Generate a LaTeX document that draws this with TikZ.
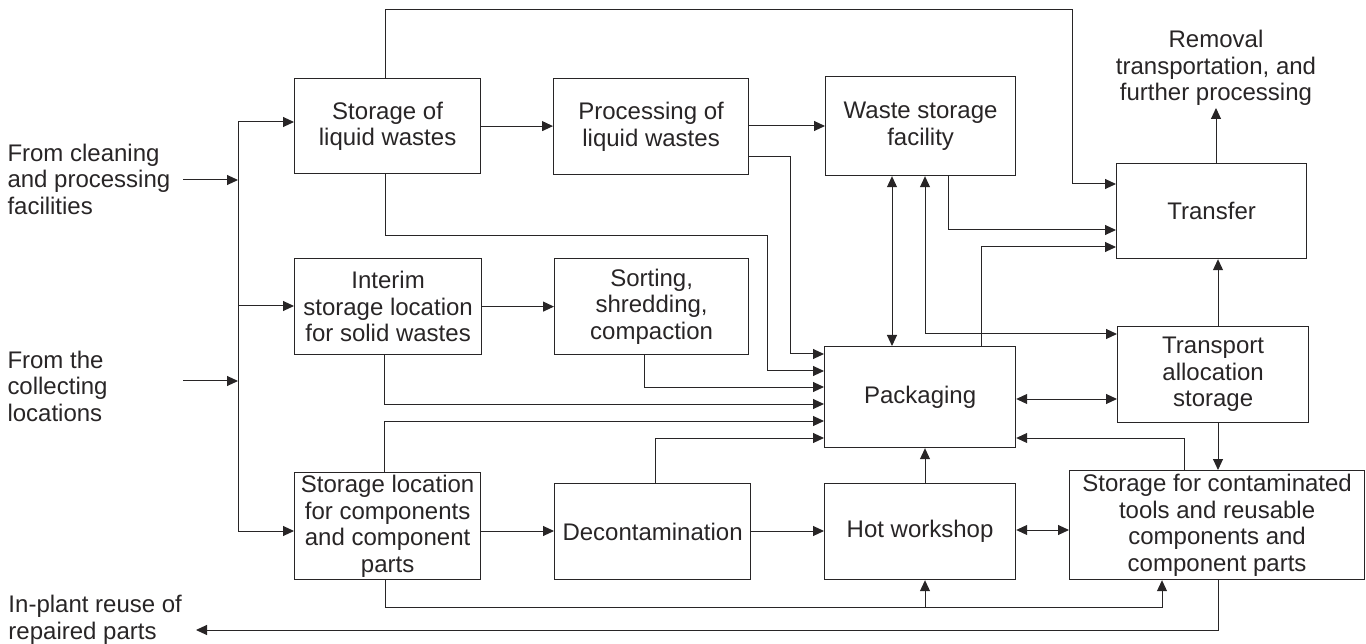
\documentclass[tikz,border=0pt]{standalone}
\usepackage{fontspec}
\setmainfont{Liberation Sans}
\usetikzlibrary{arrows.meta}
\definecolor{ln}{RGB}{40,37,38}
\begin{document}
\begin{tikzpicture}[x=1pt,y=-1pt,line width=1pt,
  every node/.style={font=\fontsize{24}{26.5}\selectfont,text=ln},
  box/.style={draw=ln,line width=1.2pt,align=center,inner sep=0pt,anchor=north west},
  lbl/.style={inner sep=0pt,align=left,anchor=west},
  arr/.style={draw=ln,-{Triangle[length=11pt,width=10pt]}},
  darr/.style={draw=ln,{Triangle[length=11pt,width=10pt]}-{Triangle[length=11pt,width=10pt]}}]
\useasboundingbox (0,0) rectangle (1366,644);
% boxes
\node[box,minimum width=186pt,minimum height=95pt] (SL) at (294,78) {Storage of\\liquid wastes};
\node[box,minimum width=195pt,minimum height=96pt] (PL) at (553,78) {Processing of\\liquid wastes};
\node[box,minimum width=190pt,minimum height=99pt] (WS) at (825,76) {Waste storage\\facility};
\node[box,minimum width=190pt,minimum height=95pt] (TR) at (1116,163) {Transfer};
\node[box,minimum width=187pt,minimum height=96pt] (IN) at (294,258) {Interim\\storage location\\for solid wastes};
\node[box,minimum width=194pt,minimum height=96pt] (SO) at (554,258) {Sorting,\\shredding,\\compaction};
\node[box,minimum width=191pt,minimum height=101pt] (PK) at (824,346) {Packaging};
\node[box,minimum width=191pt,minimum height=96pt] (TA) at (1117,326) {Transport\\allocation\\storage};
\node[box,minimum width=186pt,minimum height=107pt] (SC) at (294,472) {Storage location\\for components\\and component\\parts};
\node[box,minimum width=196pt,minimum height=96pt] (DE) at (554,483) {Decontamination};
\node[box,minimum width=191pt,minimum height=96pt] (HW) at (824,483) {Hot workshop};
\node[box,minimum width=295pt,minimum height=109pt] (ST) at (1069,470) {Storage for contaminated\\tools and reusable\\components and\\component parts};
% free texts
\node[lbl] (from1) at (7,179) {From cleaning\\and processing\\facilities};
\node[lbl] (from2) at (7,386) {From the\\collecting\\locations};
\node[lbl] (reuse) at (8,620) {In-plant reuse of\\repaired parts};
\node[inner sep=0pt,align=center] (rem) at (1216,68) {Removal\\transportation, and\\further processing};
% input bus
\coordinate (bt) at (238,122);
\coordinate (bm) at (238,306);
\coordinate (bb) at (238,531);
\coordinate (c1) at (183,180);
\coordinate (c2) at (183,381);
\draw[ln] (bt) -- (bb);
\draw[arr] (c1) -- (c1 -| bt);
\draw[arr] (c2) -- (c2 -| bt);
\draw[arr] (bt) -- (bt -| SL.west);
\draw[arr] (bm) -- (bm -| IN.west);
\draw[arr] (bb) -- (bb -| SC.west);
% row connections
\draw[arr] (SL.east) -- (SL.east -| PL.west);
\draw[arr] (PL.east |- 0,126) -- (WS.west |- 0,126);
\draw[arr] (IN.east) -- (IN.east -| SO.west);
\draw[arr] (SC.east |- 0,531) -- (DE.west |- 0,531);
\draw[arr] (DE.east |- 0,531) -- (HW.west |- 0,531);
\draw[darr] (HW.east |- 0,530) -- (ST.west |- 0,530);
% top loop
\draw[arr] (SL.north -| 385,0) -- (385,10) -- (1072,10) -- (1072,184) -- (TR.west |- 0,184);
% into packaging
\draw[arr] (PL.east |- 0,157) -- (790,157) -- (790,354) -- (PK.west |- 0,354);
\draw[arr] (SL.south -| 385,0) -- (385,236) -- (767,236) -- (767,371) -- (PK.west |- 0,371);
\draw[arr] (SO.south -| 644,0) -- (644,387) -- (PK.west |- 0,387);
\draw[arr] (IN.south -| 384,0) -- (384,404) -- (PK.west |- 0,404);
\draw[arr] (SC.north -| 384,0) -- (384,421) -- (PK.west |- 0,421);
\draw[arr] (DE.north -| 655,0) -- (655,438) -- (PK.west |- 0,438);
\draw[arr] (HW.north -| 925,0) -- (PK.south -| 925,0);
% around waste storage / transfer
\draw[darr] (PK.north -| 892,0) -- (WS.south -| 892,0);
\draw[darr] (WS.south -| 925,0) -- (925,334) -- (TA.west |- 0,334);
\draw[arr] (PK.north -| 981,0) -- (981,247) -- (TR.west |- 0,247);
\draw[arr] (WS.south -| 948,0) -- (948,230) -- (TR.west |- 0,230);
\draw[arr] (TR.north -| rem) -- (rem |- 0,108);
\draw[arr] (TA.north -| 1218,0) -- (TR.south -| 1218,0);
\draw[darr] (PK.east |- 0,399) -- (TA.west |- 0,399);
\draw[arr] (TA.south -| 1218,0) -- (ST.north -| 1218,0);
\draw[arr] (ST.north -| 1184,0) -- (1184,438) -- (PK.east |- 0,438);
% bottom
\draw[arr] (SC.south -| 385,0) -- (385,607) -- (1162,607) -- (ST.south -| 1162,0);
\coordinate (hb) at (925,607);
\draw[arr] (hb) -- (HW.south -| hb);
\coordinate (rt) at (196,630);
\draw[arr] (ST.south -| 1218,0) -- (1218,630) -- (rt);
\end{tikzpicture}
\end{document}
